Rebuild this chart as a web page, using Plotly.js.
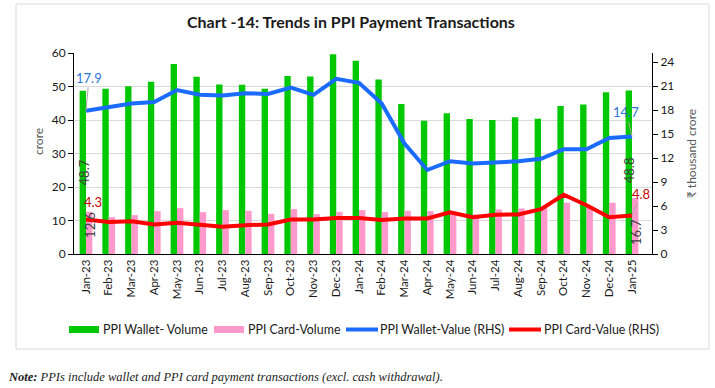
<!DOCTYPE html>
<html>
<head>
<meta charset="utf-8">
<script src="https://cdn.plot.ly/plotly-3.0.1.min.js"></script>
<style>
html,body{margin:0;padding:0;background:#fff;}
#chart{width:715px;height:388px;}
</style>
</head>
<body>
<div id="chart"></div>
<script>
const months = ["Jan-23","Feb-23","Mar-23","Apr-23","May-23","Jun-23","Jul-23","Aug-23","Sep-23","Oct-23","Nov-23","Dec-23",
  "Jan-24","Feb-24","Mar-24","Apr-24","May-24","Jun-24","Jul-24","Aug-24","Sep-24","Oct-24","Nov-24","Dec-24","Jan-25"];
const walletVolume = [48.7,49.3,50.1,51.4,56.7,52.9,50.6,50.5,49.3,53.1,53.0,59.6,57.7,52.1,44.8,39.8,42.0,40.3,40.0,40.8,40.4,44.2,44.6,48.3,48.8];
const cardVolume = [12.6,11.0,11.6,12.8,13.7,12.5,13.1,12.9,12.0,13.4,11.9,12.6,13.1,12.5,12.9,12.8,12.6,11.8,13.3,13.6,14.0,15.3,14.1,15.3,16.7];
const walletValue = [17.9,18.4,18.8,19.0,20.5,19.9,19.8,20.1,20.0,20.8,19.9,21.9,21.4,18.8,13.8,10.5,11.6,11.3,11.4,11.6,11.9,13.1,13.1,14.5,14.7];
const cardValue = [4.3,4.0,4.1,3.7,3.9,3.7,3.4,3.6,3.7,4.3,4.3,4.5,4.5,4.25,4.45,4.45,5.2,4.6,4.9,4.95,5.6,7.4,6.1,4.6,4.8];
const seriesNames = ["PPI Wallet- Volume","PPI Card-Volume","PPI Wallet-Value (RHS)","PPI Card-Value (RHS)"];
const colors = {green:"#00c800", pink:"#ff99cc", blue:"#1a6bff", red:"#ff0000"};

const W = 715, H = 388;
const M = {l:74, r:63, t:53, b:134};
const PW = W - M.l - M.r, PH = H - M.t - M.b;
const px = x => (x - M.l) / PW;
const py = y => (H - M.b - y) / PH;

const FONT = "Lato, 'Open Sans', sans-serif";
const first = 0, last = months.length - 1;

const traces = [
  {type:"bar", name:seriesNames[0], x:months, y:walletVolume, marker:{color:colors.green}, showlegend:false, hoverinfo:"skip"},
  {type:"bar", name:seriesNames[1], x:months, y:cardVolume, marker:{color:colors.pink}, showlegend:false, hoverinfo:"skip"},
  {type:"scatter", mode:"lines", name:seriesNames[2], x:months, y:walletValue, yaxis:"y2", line:{color:colors.blue, width:4}, showlegend:false, hoverinfo:"skip"},
  {type:"scatter", mode:"lines", name:seriesNames[3], x:months, y:cardValue, yaxis:"y2", line:{color:colors.red, width:4}, showlegend:false, hoverinfo:"skip"}
];

const fmt = v => v.toFixed(1);
const annotations = [
  // value labels
  {x:months[first], y:walletValue[first], yref:"y2", text:fmt(walletValue[first]), showarrow:true, arrowhead:0, arrowcolor:"#a6a6a6", arrowwidth:1, ax:3, ay:-33, font:{family:FONT, size:13, color:"#2f75d6"}},
  {x:months[last], y:walletValue[last], yref:"y2", text:fmt(walletValue[last]), showarrow:true, arrowhead:0, arrowcolor:"#a6a6a6", arrowwidth:1, ax:-6, ay:-24, font:{family:FONT, size:13, color:"#2f75d6"}},
  {x:months[first], y:cardValue[first], yref:"y2", text:fmt(cardValue[first]), showarrow:false, xshift:7, yshift:18, font:{family:FONT, size:13, color:"#c00000"}},
  {x:months[last], y:cardValue[last], yref:"y2", text:fmt(cardValue[last]), showarrow:true, arrowhead:0, arrowcolor:"#a6a6a6", arrowwidth:1, ax:9, ay:-22, font:{family:FONT, size:13, color:"#c00000"}},
  {x:months[first], y:walletVolume[first]/2, text:fmt(walletVolume[first]), textangle:-90, showarrow:false, xshift:-2, font:{family:FONT, size:13, color:"#404040"}},
  {x:months[last], y:walletVolume[last]/2, text:fmt(walletVolume[last]), textangle:-90, showarrow:false, xshift:-3, yshift:2, font:{family:FONT, size:13, color:"#404040"}},
  {x:months[first], y:cardVolume[first]/2, text:fmt(cardVolume[first]), textangle:-90, showarrow:false, xshift:4, yshift:8, font:{family:FONT, size:13, color:"#404040"}},
  {x:months[last], y:cardVolume[last]/2, text:fmt(cardVolume[last]), textangle:-90, showarrow:false, xshift:4, yshift:-6, font:{family:FONT, size:13, color:"#404040"}},
  // title
  {xref:"paper", yref:"paper", x:px(351), y:py(21), text:"<b>Chart -14: Trends in PPI Payment Transactions</b>", showarrow:false, xanchor:"center", yanchor:"middle", font:{family:FONT, size:16, color:"#1a1a1a"}},
  // left axis title
  {xref:"paper", yref:"paper", x:px(38), y:py(142), text:"crore", textangle:-90, showarrow:false, xanchor:"center", yanchor:"middle", font:{family:FONT, size:12, color:"#595959"}},
  // note
  {xref:"paper", yref:"paper", x:px(6), y:py(377), text:"<b><i>Note:</i></b><i> PPIs include wallet and PPI card payment transactions (excl. cash withdrawal).</i>", showarrow:false, xanchor:"left", yanchor:"middle", font:{family:"'Liberation Serif', 'DejaVu Serif', serif", size:12.5, color:"#1a1a1a"}}
];

// custom legend
const legendItems = [
  {kind:"rect", color:colors.green, x0:69, x1:99, tx:101, name:seriesNames[0]},
  {kind:"rect", color:colors.pink, x0:214, x1:244, tx:246, name:seriesNames[1]},
  {kind:"line", color:colors.blue, x0:346, x1:378, tx:378, name:seriesNames[2]},
  {kind:"line", color:colors.red, x0:509, x1:541, tx:542, name:seriesNames[3]}
];
const legY = 329.5;
const shapes = [
  {type:"rect", xref:"paper", yref:"paper", x0:px(16), x1:px(709), y0:py(349), y1:py(4), line:{color:"#d9d9d9", width:1}, fillcolor:"rgba(0,0,0,0)", layer:"below"}
];
legendItems.forEach(it => {
  if (it.kind === "rect") {
    shapes.push({type:"rect", xref:"paper", yref:"paper", x0:px(it.x0), x1:px(it.x1), y0:py(legY+3.5), y1:py(legY-3.5), line:{width:0}, fillcolor:it.color});
  } else {
    shapes.push({type:"line", xref:"paper", yref:"paper", x0:px(it.x0), x1:px(it.x1), y0:py(legY), y1:py(legY), line:{color:it.color, width:4}});
  }
  annotations.push({xref:"paper", yref:"paper", x:px(it.tx), y:py(legY), text:it.name, showarrow:false, xanchor:"left", yanchor:"middle", font:{family:FONT, size:12.4, color:"#1a1a1a"}});
});

const layout = {
  width:W, height:H,
  margin:{l:M.l, r:M.r, t:M.t, b:M.b, pad:0},
  paper_bgcolor:"#ffffff", plot_bgcolor:"#ffffff",
  barmode:"group", bargap:0.44, bargroupgap:0,
  showlegend:false,
  font:{family:FONT, size:12, color:"#1a1a1a"},
  xaxis:{type:"category", tickangle:-90, tickfont:{family:FONT, size:11.5, color:"#1a1a1a"},
    showline:true, linecolor:"#000", linewidth:1, showgrid:false, ticks:"", ticklen:0, fixedrange:true},
  yaxis:{range:[0,60], dtick:10, showline:true, linecolor:"#000", linewidth:1, ticks:"outside", ticklen:5, tickcolor:"#000",
    showgrid:true, gridcolor:"#d9d9d9", gridwidth:1, zeroline:false,
    tickfont:{family:FONT, size:12, color:"#1a1a1a"}},
  yaxis2:{range:[0,25.125], tickvals:[0,3,6,9,12,15,18,21,24], overlaying:"y", side:"right",
    showline:true, linecolor:"#000", linewidth:1, ticks:"outside", ticklen:5, tickcolor:"#000",
    showgrid:false, zeroline:false, tickfont:{family:FONT, size:12, color:"#1a1a1a"},
    title:{text:"₹ thousand crore", font:{family:FONT, size:12, color:"#595959"}, standoff:14}},
  annotations:annotations,
  shapes:shapes
};

Plotly.newPlot("chart", traces, layout, {staticPlot:true, displayModeBar:false});
</script>
</body>
</html>
